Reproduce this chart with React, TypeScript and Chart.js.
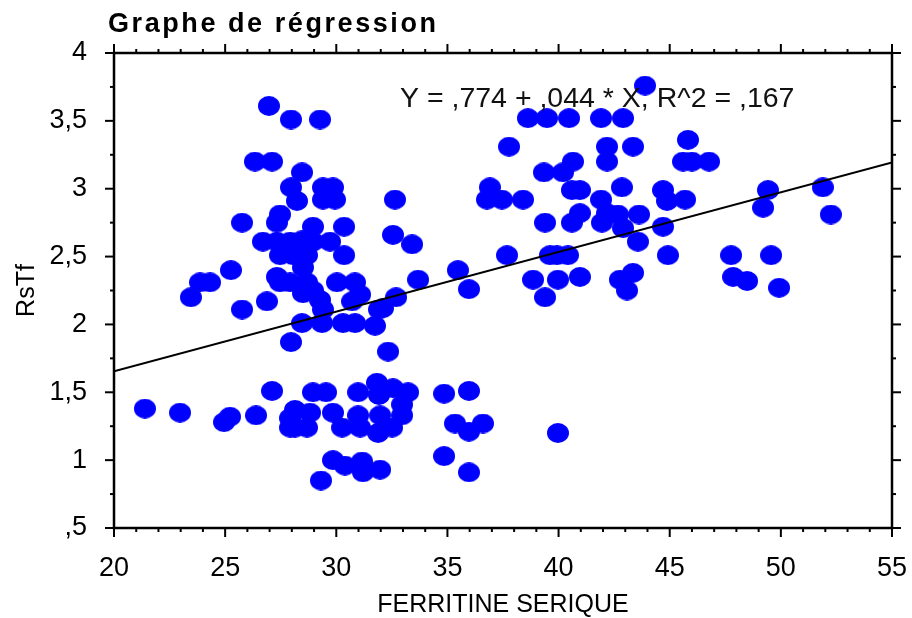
import React, { useEffect, useRef } from "react";
import { Chart, registerables } from "chart.js";

Chart.register(...registerables);

// ---- data ----
const ferritine = [
  21.39, 22.97, 23.46, 23.87, 24.32, 25.26, 24.95, 25.22, 26.39, 27.11, 27.96, 27.92, 27.92,
  26.34, 27.11, 28.46, 27.96, 28.23, 29.4, 29.85, 29.4, 29.94,
  27.47, 27.33, 25.76, 28.95, 30.35,
  26.7, 27.33, 27.92, 28.46, 28.95, 29.72,
  27.47, 28.05, 28.68, 30.35,
  25.76, 26.88, 27.33, 27.47, 28.5, 27.92, 28.68, 28.95, 28.5, 29.27, 29.4, 30.03, 30.84, 30.71, 31.07,
  28.46, 29.36, 30.3, 30.84, 31.74, 31.92,
  26.97, 27.96, 29.27,
  32.64, 32.55, 33.41, 35.47, 33.68, 37.68, 35.97,
  36.91, 36.78, 37.45, 38.4, 37.77,
  38.62, 39.48, 40.47, 41.91, 42.9, 43.89,
  40.65, 39.34, 40.2, 40.6, 40.96, 41.91, 42.85, 42.18, 42.18, 43.35,
  39.39, 40.6, 40.96, 41.95, 42.18, 42.67, 42.9, 43.62, 43.57, 44.7, 44.7, 44.92,
  39.61, 39.93, 40.42,
  38.85, 39.97, 40.96, 42.76, 43.35, 43.08, 39.39,
  32.69, 32.1, 32.33, 34.85, 35.97, 35.34, 35.97, 36.6, 34.85, 35.97, 39.97, 31.97,
  28.95, 29.54, 30.98, 31.83, 32.55, 33.23, 31.92,
  28.14, 28.82, 28.14, 28.68, 29.85, 30.26, 30.98, 31.07, 31.88, 31.97, 32.51, 32.96, 32.96,
  29.85, 30.39, 31.16, 31.2, 29.31,
  45.82, 45.6, 46.0, 46.77, 44.88, 45.69, 49.42, 49.2, 51.89, 52.25, 47.76, 49.56, 47.85, 48.48, 49.92,
];

const rstf = [
  1.38, 1.35, 2.2, 2.31, 2.31, 2.4, 1.28, 1.32, 1.33, 1.51, 1.87, 1.31, 1.24,
  3.2, 3.2, 3.12, 3.01, 2.91, 3.01, 3.01, 2.92, 2.92,
  2.81, 2.75, 2.75, 2.72, 2.72,
  2.61, 2.61, 2.61, 2.62, 2.61, 2.61,
  2.51, 2.51, 2.51, 2.51,
  2.11, 2.17, 2.35, 2.31, 2.42, 2.31, 2.31, 2.25, 2.23, 2.18, 2.11, 2.31, 2.31, 2.17, 2.22,
  2.01, 2.01, 2.01, 2.01, 1.99, 2.11,
  3.61, 3.51, 3.51,
  2.92, 2.66, 2.59, 2.4, 2.33, 2.51, 2.26,
  3.01, 2.92, 2.92, 2.92, 3.31,
  3.52, 3.52, 3.52, 3.52, 3.52, 3.76,
  3.2, 3.12, 3.12, 2.99, 2.99, 2.92, 3.01, 3.31, 3.2, 3.31,
  2.75, 2.75, 2.82, 2.75, 2.82, 2.81, 2.71, 2.81, 2.61, 2.72, 2.99, 2.51,
  2.51, 2.51, 2.51,
  2.33, 2.33, 2.35, 2.33, 2.38, 2.25, 2.2,
  2.2, 2.12, 1.8, 1.49, 1.51, 1.27, 1.21, 1.27, 1.03, 0.91, 1.2, 0.93,
  1.5, 1.5, 1.5, 1.57, 1.53, 1.5, 1.48,
  1.37, 1.35, 1.24, 1.24, 1.35, 1.24, 1.33, 1.24, 1.2, 1.33, 1.24, 1.33, 1.41,
  1.0, 0.96, 0.99, 0.91, 0.85,
  3.36, 3.2, 3.2, 3.2, 2.91, 2.92, 2.99, 2.86, 3.01, 2.81, 2.51, 2.51, 2.35, 2.32, 2.27,
];

const intercept = 0.774;
const slope = 0.044;

const xRange = [20, 55];
const xStep = 5;
const xMinorStep = 1;
const yRange = [0.5, 4];
const yStep = 0.5;
const yMinorStep = 0.25;

const chartTitle = "Graphe de régression";
const xTitle = "FERRITINE SERIQUE";
const yTitle = "RsTf";
const equationText = "Y = ,774 + ,044 * X, R^2 = ,167";

const FONT = "'Liberation Sans', Arial, Helvetica, sans-serif";

function formatTick(v: number): string {
  let s = String(Math.round(v * 100) / 100).replace(".", ",");
  if (s.startsWith("0,")) s = s.slice(1);
  return s;
}

function makeEllipse(): HTMLCanvasElement {
  const c = document.createElement("canvas");
  c.width = 22;
  c.height = 20;
  const g = c.getContext("2d")!;
  g.fillStyle = "#0000FF";
  g.beginPath();
  g.ellipse(11, 10, 11, 10, 0, 0, Math.PI * 2);
  g.fill();
  return c;
}

const framePlugin = {
  id: "framePlugin",
  afterDraw(chart: any) {
    const { ctx, chartArea } = chart;
    const { left, right, top, bottom } = chartArea;
    const xs = chart.scales.x;
    const ys = chart.scales.y;
    ctx.save();
    ctx.strokeStyle = "#000";
    ctx.lineWidth = 2.5;
    ctx.strokeRect(left, top, right - left, bottom - top);

    ctx.lineWidth = 2;
    const seg = (x1: number, y1: number, x2: number, y2: number) => {
      ctx.beginPath();
      ctx.moveTo(x1, y1);
      ctx.lineTo(x2, y2);
      ctx.stroke();
    };
    const nx = Math.round((xRange[1] - xRange[0]) / xMinorStep);
    for (let i = 0; i <= nx; i++) {
      const v = xRange[0] + i * xMinorStep;
      const px = xs.getPixelForValue(v);
      const r = v / xStep;
      const major = Math.abs(r - Math.round(r)) < 1e-6;
      const L = major ? 9 : 4;
      seg(px, bottom, px, bottom + L);
      seg(px, top, px, top - L);
    }
    const ny = Math.round((yRange[1] - yRange[0]) / yMinorStep);
    for (let i = 0; i <= ny; i++) {
      const v = yRange[0] + i * yMinorStep;
      const py = ys.getPixelForValue(v);
      const r = v / yStep;
      const major = Math.abs(r - Math.round(r)) < 1e-6;
      const L = major ? 9 : 4;
      seg(left, py, left - L, py);
      seg(right, py, right + L, py);
    }

    ctx.fillStyle = "#000";
    // title with letter spacing
    ctx.font = `bold 27px ${FONT}`;
    ctx.textBaseline = "alphabetic";
    ctx.textAlign = "left";
    const chars = Array.from(chartTitle);
    const natural = ctx.measureText(chartTitle).width;
    const spacing = (328 - natural) / (chars.length - 1);
    let cx = 108;
    for (const ch of chars) {
      ctx.fillText(ch, cx, 32);
      cx += ctx.measureText(ch).width + spacing;
    }

    // equation
    ctx.font = `28.5px ${FONT}`;
    ctx.fillStyle = "#111";
    ctx.fillText(equationText, 400, 107);

    // x title
    ctx.fillStyle = "#000";
    ctx.font = `25px ${FONT}`;
    ctx.textAlign = "center";
    ctx.fillText(xTitle, (left + right) / 2, 612);

    // y title
    ctx.save();
    ctx.translate(27, (top + bottom) / 2);
    ctx.rotate(-Math.PI / 2);
    ctx.textBaseline = "middle";
    ctx.fillText(yTitle, 0, 0);
    ctx.restore();

    ctx.restore();
  },
};

export default function App() {
  const ref = useRef<HTMLCanvasElement | null>(null);

  useEffect(() => {
    if (!ref.current) return;
    const ellipse = makeEllipse();
    const points = ferritine.map((x, i) => ({ x, y: rstf[i] }));
    const linePts = xRange.map((x) => ({ x, y: intercept + slope * x }));

    const chart = new Chart(ref.current, {
      type: "scatter",
      data: {
        datasets: [
          {
            type: "line",
            data: linePts,
            borderColor: "#000",
            borderWidth: 2,
            pointRadius: 0,
            fill: false,
            order: 0,
          } as any,
          {
            data: points,
            pointStyle: ellipse as any,
            pointRadius: 10,
            backgroundColor: "#0000FF",
            borderWidth: 0,
            order: 1,
          },
        ],
      },
      options: {
        responsive: false,
        animation: false,
        devicePixelRatio: 1,
        layout: { padding: { left: 0, top: 53, right: 0, bottom: 0 } },
        plugins: {
          legend: { display: false },
          tooltip: { enabled: false },
          title: { display: false },
        },
        scales: {
          x: {
            type: "linear",
            min: xRange[0],
            max: xRange[1],
            grid: { display: false, drawTicks: false },
            border: { display: false },
            ticks: {
              stepSize: xStep,
              padding: 24,
              color: "#000",
              font: { family: FONT, size: 27 },
              maxRotation: 0,
              callback: (v: any) => formatTick(Number(v)),
            },
            afterFit: (s: any) => {
              s.height = 90;
              s.paddingRight = 20;
            },
          },
          y: {
            type: "linear",
            min: yRange[0],
            max: yRange[1],
            grid: { display: false, drawTicks: false },
            border: { display: false },
            ticks: {
              stepSize: yStep,
              padding: 27,
              color: "#000",
              font: { family: FONT, size: 27 },
              callback: (v: any) => formatTick(Number(v)),
            },
            afterFit: (s: any) => {
              s.width = 114;
            },
          },
        },
      },
      plugins: [framePlugin],
    });
    return () => chart.destroy();
  }, []);

  return (
    <div style={{ position: "absolute", left: 0, top: 0, width: 912, height: 618, background: "#fff" }}>
      <canvas ref={ref} width={912} height={618} style={{ display: "block" }} />
    </div>
  );
}
